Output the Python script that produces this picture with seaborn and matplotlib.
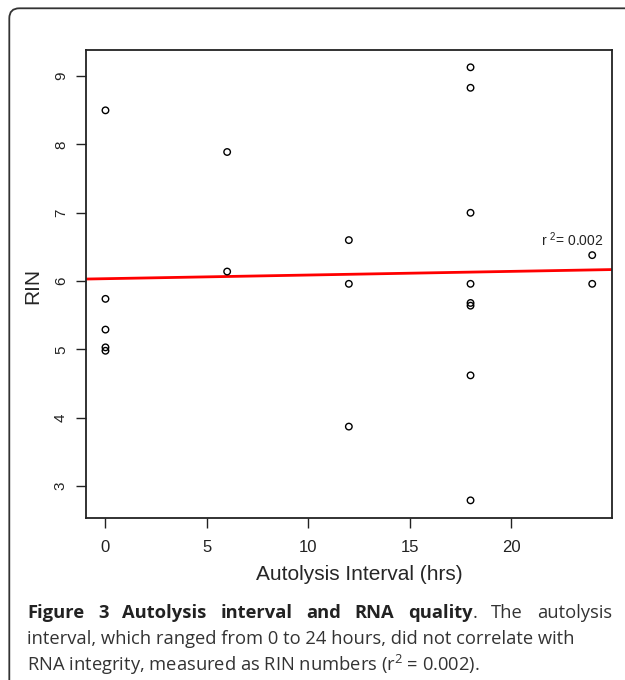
import numpy as np
import pandas as pd
import matplotlib.pyplot as plt
import seaborn as sns
from matplotlib.patches import FancyBboxPatch

# values
interval = [0, 0, 0, 0, 0, 6, 6, 12, 12, 12,
            18, 18, 18, 18, 18, 18, 18, 18, 24, 24]
rin = [8.50, 5.74, 5.29, 5.03, 4.98, 7.89, 6.14, 6.60, 5.96, 3.87,
       9.13, 8.83, 7.00, 5.96, 5.68, 5.64, 4.62, 2.79, 6.38, 5.96]
x_ticks = [0, 5, 10, 15, 20]
y_ticks = [3, 4, 5, 6, 7, 8, 9]
r2_text = r"r $^{2}$= 0.002"

caption_bold = "Figure 3 Autolysis interval and RNA quality"
caption_rest = ". The autolysis"
caption_lines = [
    "interval, which ranged from 0 to 24 hours, did not correlate with",
    r"RNA integrity, measured as RIN numbers (r$^{2}$ = 0.002).",
]

df = pd.DataFrame({"interval": interval, "rin": rin})

sns.set_theme(style="ticks")
plt.rcParams["font.family"] = ["Liberation Sans", "DejaVu Sans"]
plt.rcParams["mathtext.default"] = "regular"

fig = plt.figure(figsize=(6.25, 6.8), dpi=100)
ax = fig.add_axes([0.1376, 0.2387, 0.8411, 0.6878])

# R-style axis range (4% padding)
xr = max(interval) - min(interval)
yr = max(rin) - min(rin)
ax.set_xlim(min(interval) - 0.04 * xr, max(interval) + 0.04 * xr)
ax.set_ylim(min(rin) - 0.04 * yr, max(rin) + 0.04 * yr)

sns.scatterplot(
    data=df, x="interval", y="rin",
    marker="o", s=22, facecolors="none", edgecolor="black",
    linewidth=1.0, ax=ax, zorder=3
)
sns.regplot(
    data=df, x="interval", y="rin",
    scatter=False, ci=None, truncate=False,
    line_kws={"color": "#ff0000", "lw": 2.0},
    ax=ax
)
ax.set_xlim(min(interval) - 0.04 * xr, max(interval) + 0.04 * xr)

ax.text(21.45, 6.6, r2_text, fontsize=10, color="#222222",
        ha="left", va="center")

ax.set_xticks(x_ticks)
ax.set_yticks(y_ticks)
ax.tick_params(axis="both", direction="out", length=7, width=1.0,
               colors="#222222", labelsize=12)
ax.tick_params(axis="x", pad=9)
ax.tick_params(axis="y", pad=6, labelrotation=90, labelsize=11)
for lab in ax.get_yticklabels():
    lab.set_verticalalignment("center")
for sp in ax.spines.values():
    sp.set_visible(True)
    sp.set_linewidth(1.3)
    sp.set_color("#222222")

ax.set_xlabel("Autolysis Interval (hrs)", fontsize=15)
ax.set_ylabel("RIN", fontsize=15)
ax.xaxis.label.set_va("center")
ax.yaxis.label.set_va("center")
ax.xaxis.set_label_coords(0.519, -0.1225)
ax.yaxis.set_label_coords(-0.1008, 0.4965)

# outer frame with rounded corner
frame = FancyBboxPatch(
    (0.093, -1.0), 8.0, 6.717 + 1.0,
    boxstyle="round,pad=0,rounding_size=0.1",
    transform=fig.dpi_scale_trans, fill=False,
    edgecolor="#333333", linewidth=1.3, clip_on=False
)
fig.patches.append(frame)

# caption
cap_font = ["Open Sans", "DejaVu Sans"]
cap_size = 13.2
left_px, right_px = 27, 612
renderer = fig.canvas.get_renderer()

# first line is justified: words spread between left and right edge
words = [(w, "bold") for w in caption_bold.split()]
rest = caption_rest.split()
words[-1] = (words[-1][0], "bold", rest[0])
words += [(w, "normal") for w in rest[1:]]

pieces = []
for item in words:
    t = fig.text(0, 1 - 618 / 680, item[0], fontsize=cap_size,
                 fontweight=item[1], family=cap_font, va="baseline",
                 color="#222222" if item[1] == "bold" else "#333333")
    w = t.get_window_extent(renderer).width
    extra = None
    if len(item) == 3:
        extra = fig.text(0, 1 - 618 / 680, item[2], fontsize=cap_size,
                         family=cap_font, va="baseline", color="#333333")
        w2 = extra.get_window_extent(renderer).width
    else:
        w2 = 0
    pieces.append((t, w, extra, w2))

total = sum(p[1] + p[3] for p in pieces)
gap = (right_px - left_px - total) / (len(pieces) - 1)
x = left_px
for t, w, extra, w2 in pieces:
    t.set_x(x / 625)
    if extra is not None:
        extra.set_x((x + w) / 625)
    x += w + w2 + gap

fig.text(left_px / 625, 1 - 644 / 680, caption_lines[0], fontsize=cap_size,
         family=cap_font, va="baseline", color="#333333")
fig.text(left_px / 625, 1 - 671 / 680, caption_lines[1], fontsize=cap_size,
         family=cap_font, va="baseline", color="#333333")

plt.savefig("out.png", dpi=100)
